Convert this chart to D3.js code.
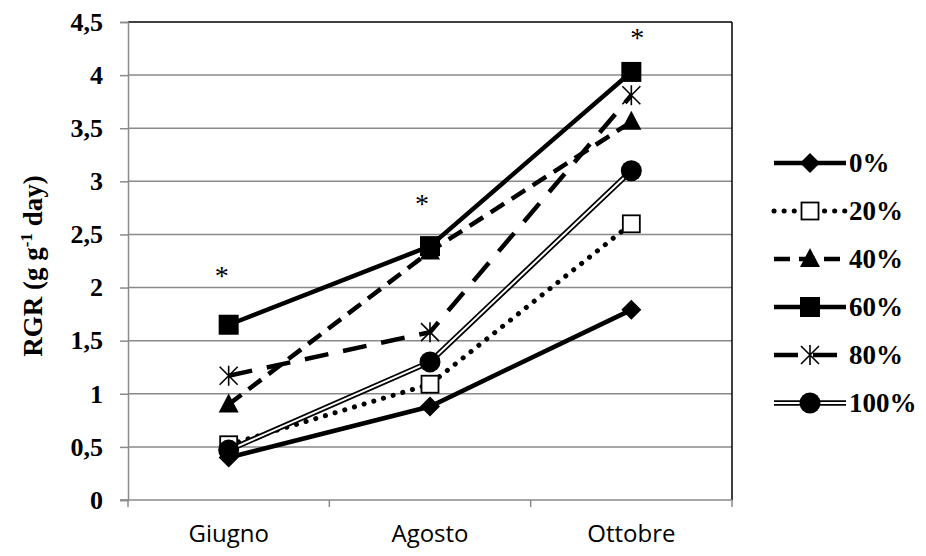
<!DOCTYPE html>
<html>
<head>
<meta charset="utf-8">
<script src="https://cdn.jsdelivr.net/npm/d3@7"></script>
<style>
  body { margin: 0; background: #fff; }
  svg { display: block; }
</style>
</head>
<body>
<svg id="chart" width="926" height="556"></svg>
<script>
// RGR by month for six shading levels
const months = ["Giugno", "Agosto", "Ottobre"];
const seriesNames = ["0%", "20%", "40%", "60%", "80%", "100%"];
const rgr0   = [0.40, 0.88, 1.79];
const rgr20  = [0.52, 1.09, 2.60];
const rgr40  = [0.90, 2.34, 3.56];
const rgr60  = [1.65, 2.39, 4.03];
const rgr80  = [1.17, 1.58, 3.81];
const rgr100 = [0.47, 1.30, 3.10];
const yTicks = [0, 0.5, 1, 1.5, 2, 2.5, 3, 3.5, 4, 4.5];
// significance marks (month, height in axis units)
const signifMonths = ["Giugno", "Agosto", "Ottobre"];
const signifValues = [2.16, 2.83, 4.40];
const signifDx = [-7, -8, 6]; // hand-placed offsets, as in the original

const series = [
  { name: "0%",   values: rgr0,   line: "solid",    marker: "diamond" },
  { name: "20%",  values: rgr20,  line: "dot",      marker: "openSquare" },
  { name: "40%",  values: rgr40,  line: "dash",     marker: "triangle" },
  { name: "60%",  values: rgr60,  line: "solid",    marker: "square" },
  { name: "80%",  values: rgr80,  line: "longdash", marker: "star" },
  { name: "100%", values: rgr100, line: "double",   marker: "circle" }
];

const SERIF = "'Liberation Serif', 'Times New Roman', serif";
const SANS = "'Open Sans', Carlito, Lato, sans-serif";

const svg = d3.select("#chart");
const plot = { left: 128, right: 732, top: 22, bottom: 500 };

const x = d3.scaleBand().domain(months).range([plot.left, plot.right]);
const y = d3.scaleLinear().domain([0, 4.5]).range([plot.bottom, plot.top]);
const cx = m => x(m) + x.bandwidth() / 2;

const fmt = v => Number.isInteger(v) ? String(v) : String(v).replace(".", ",");

// gridlines (top one doubles as the black plot border)
svg.append("g").selectAll("line")
  .data(yTicks.filter(v => v > 0))
  .join("line")
  .attr("x1", plot.left).attr("x2", plot.right)
  .attr("y1", d => y(d)).attr("y2", d => y(d))
  .attr("stroke", d => d === 4.5 ? "#000" : "#8a8a8a")
  .attr("stroke-width", 1.5);

// right border
svg.append("line")
  .attr("x1", plot.right).attr("x2", plot.right)
  .attr("y1", plot.top).attr("y2", plot.bottom)
  .attr("stroke", "#000").attr("stroke-width", 1.5);

// y axis
const yAxis = svg.append("g")
  .attr("transform", `translate(${plot.left},0)`)
  .call(d3.axisLeft(y).tickValues(yTicks).tickFormat(fmt).tickSize(8).tickPadding(17));
yAxis.select(".domain").attr("stroke", "#8a8a8a").attr("stroke-width", 1.5);
yAxis.selectAll(".tick line").attr("stroke", "#8a8a8a").attr("stroke-width", 1.5);
yAxis.selectAll("text")
  .attr("font-family", SERIF)
  .attr("font-weight", "bold")
  .attr("font-size", 26)
  .attr("fill", "#000");

// x axis, ticks sit on the category boundaries
const xAxisG = svg.append("g");
xAxisG.append("line")
  .attr("x1", plot.left - 8).attr("x2", plot.right)
  .attr("y1", plot.bottom).attr("y2", plot.bottom)
  .attr("stroke", "#8a8a8a").attr("stroke-width", 1.5);
const bounds = months.map(m => x(m)).concat([x(months[months.length - 1]) + x.bandwidth()]);
xAxisG.selectAll("line.tk")
  .data(bounds)
  .join("line")
  .attr("class", "tk")
  .attr("x1", d => d).attr("x2", d => d)
  .attr("y1", plot.bottom).attr("y2", plot.bottom + 7)
  .attr("stroke", "#8a8a8a").attr("stroke-width", 1.5);
xAxisG.selectAll("text")
  .data(months)
  .join("text")
  .attr("x", d => cx(d))
  .attr("y", 542)
  .attr("text-anchor", "middle")
  .attr("font-family", SANS)
  .attr("font-size", 24)
  .text(d => d);

// y title
const yt = svg.append("text")
  .attr("transform", `translate(42,${266}) rotate(-90)`)
  .attr("text-anchor", "middle")
  .attr("font-family", SERIF)
  .attr("font-weight", "bold")
  .attr("font-size", 27);
yt.append("tspan").text("RGR (g g");
yt.append("tspan").attr("dy", -10).attr("font-size", 17).text("-1");
yt.append("tspan").attr("dy", 10).text(" day)");

function drawLine(g, pts, style) {
  const path = d3.line()(pts);
  if (style === "double") {
    g.append("path").attr("d", path).attr("fill", "none")
      .attr("stroke", "#000").attr("stroke-width", 5.5);
    g.append("path").attr("d", path).attr("fill", "none")
      .attr("stroke", "#fff").attr("stroke-width", 2);
    return;
  }
  const p = g.append("path").attr("d", path).attr("fill", "none")
    .attr("stroke", "#000").attr("stroke-width", 4.5);
  if (style === "dot") p.attr("stroke-dasharray", "0.1 10").attr("stroke-linecap", "round").attr("stroke-width", 5);
  if (style === "dash") p.attr("stroke-dasharray", "16 9");
  if (style === "longdash") p.attr("stroke-dasharray", "24 15");
}

function drawMarker(g, px, py, type) {
  const m = g.append("g").attr("transform", `translate(${px},${py})`);
  if (type === "diamond") {
    m.append("path").attr("d", "M0,-10L10,0L0,10L-10,0Z").attr("fill", "#000");
  } else if (type === "openSquare") {
    m.append("rect").attr("x", -8.5).attr("y", -8.5).attr("width", 17).attr("height", 17)
      .attr("fill", "#fff").attr("stroke", "#000").attr("stroke-width", 1.8);
  } else if (type === "triangle") {
    m.append("path").attr("d", "M0,-11L10,8L-10,8Z").attr("fill", "#000");
  } else if (type === "square") {
    m.append("rect").attr("x", -10).attr("y", -10).attr("width", 20).attr("height", 20)
      .attr("fill", "#000");
  } else if (type === "star") {
    m.append("path").attr("d", "M-9,-9L9,9M-9,9L9,-9M0,-10L0,10")
      .attr("stroke", "#000").attr("stroke-width", 1.6).attr("fill", "none");
  } else if (type === "circle") {
    m.append("circle").attr("r", 10.5).attr("fill", "#000");
  }
}

// series: all lines first, markers on top
const linesG = svg.append("g");
series.forEach(s => {
  const pts = months.map((m, i) => [cx(m), y(s.values[i])]);
  drawLine(linesG.append("g"), pts, s.line);
});
series.forEach(s => {
  const g = linesG.append("g");
  months.forEach((m, i) => drawMarker(g, cx(m), y(s.values[i]), s.marker));
});

// significance asterisks
svg.append("g").selectAll("text")
  .data(signifMonths.map((m, i) => ({ m, v: signifValues[i], dx: signifDx[i] })))
  .join("text")
  .attr("x", d => cx(d.m) + d.dx)
  .attr("y", d => y(d.v) + 14)
  .attr("text-anchor", "middle")
  .attr("font-family", SERIF)
  .attr("font-size", 28)
  .attr("fill", "#000")
  .text("*");

// legend
const legend = svg.append("g");
const legY = [163, 211, 259, 307, 355, 403];
series.forEach((s, i) => {
  const g = legend.append("g");
  drawLine(g, [[774, legY[i]], [846, legY[i]]], s.line);
  drawMarker(g, 810, legY[i], s.marker);
  g.append("text")
    .attr("x", 849)
    .attr("y", legY[i] + 9)
    .attr("font-family", SERIF)
    .attr("font-weight", "bold")
    .attr("font-size", 27)
    .text(seriesNames[i]);
});
</script>
</body>
</html>
